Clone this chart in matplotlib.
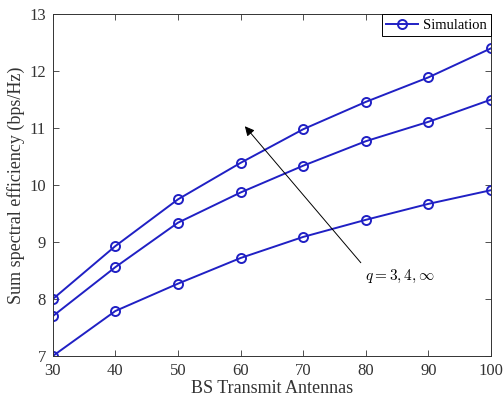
import numpy as np
import matplotlib
matplotlib.use("Agg")
import matplotlib.pyplot as plt

# Data
antennas = [30, 40, 50, 60, 70, 80, 90, 100]
se_q_inf = [8.00, 8.93, 9.75, 10.39, 10.98, 11.46, 11.89, 12.40]
se_q4 = [7.70, 8.56, 9.34, 9.87, 10.34, 10.77, 11.11, 11.50]
se_q3 = [7.00, 7.79, 8.27, 8.72, 9.09, 9.39, 9.67, 9.91]

plt.rcParams['font.family'] = ['Liberation Serif', 'DejaVu Serif']
plt.rcParams['mathtext.fontset'] = 'cm'

blue = '#2020c4'

fig = plt.figure(figsize=(5.03, 4.05), dpi=100)
ax = fig.add_axes([0.105, 0.121, 0.871, 0.844])

ax.plot(antennas, se_q_inf, color=blue, lw=1.4, marker='o', ms=6.5, mfc='none', mew=1.4, label='Simulation')
ax.plot(antennas, se_q4, color=blue, lw=1.4, marker='o', ms=6.5, mfc='none', mew=1.4)
ax.plot(antennas, se_q3, color=blue, lw=1.4, marker='o', ms=6.5, mfc='none', mew=1.4)

# arrow and label for q
ax.annotate('', xy=(60.4, 11.07), xytext=(79.5, 8.6),
            arrowprops=dict(arrowstyle='-|>', color='black', lw=0.7, mutation_scale=14))
ax.text(79.9, 8.39, r'$q=3,4,\infty$', fontsize=11, va='center', ha='left')

ax.set_xlim(30, 100)
ax.set_ylim(7, 13)
ax.set_xticks(np.arange(30, 101, 10))
ax.set_yticks(np.arange(7, 14, 1))
ax.tick_params(direction='in', top=True, right=True, labelsize=12, length=4, width=0.6, colors='#333333',
               labelcolor='#333333')
ax.tick_params(axis='x', pad=5)
ax.tick_params(axis='y', pad=5)
for s in ax.spines.values():
    s.set_linewidth(0.7)
    s.set_color('#333333')

ax.set_xlabel('BS Transmit Antennas', fontsize=13, color='#333333', labelpad=1)
ax.set_ylabel('Sum spectral efficiency (bps/Hz)', fontsize=13, color='#333333', labelpad=3)

leg = ax.legend(loc='upper right', fontsize=10.5, fancybox=False, borderaxespad=0.0,
                handlelength=2.2, borderpad=0.3, handletextpad=0.3)
leg.get_frame().set_edgecolor('black')
leg.get_frame().set_linewidth(0.7)
leg.get_frame().set_alpha(1)

fig.savefig('out.png', dpi=100)
